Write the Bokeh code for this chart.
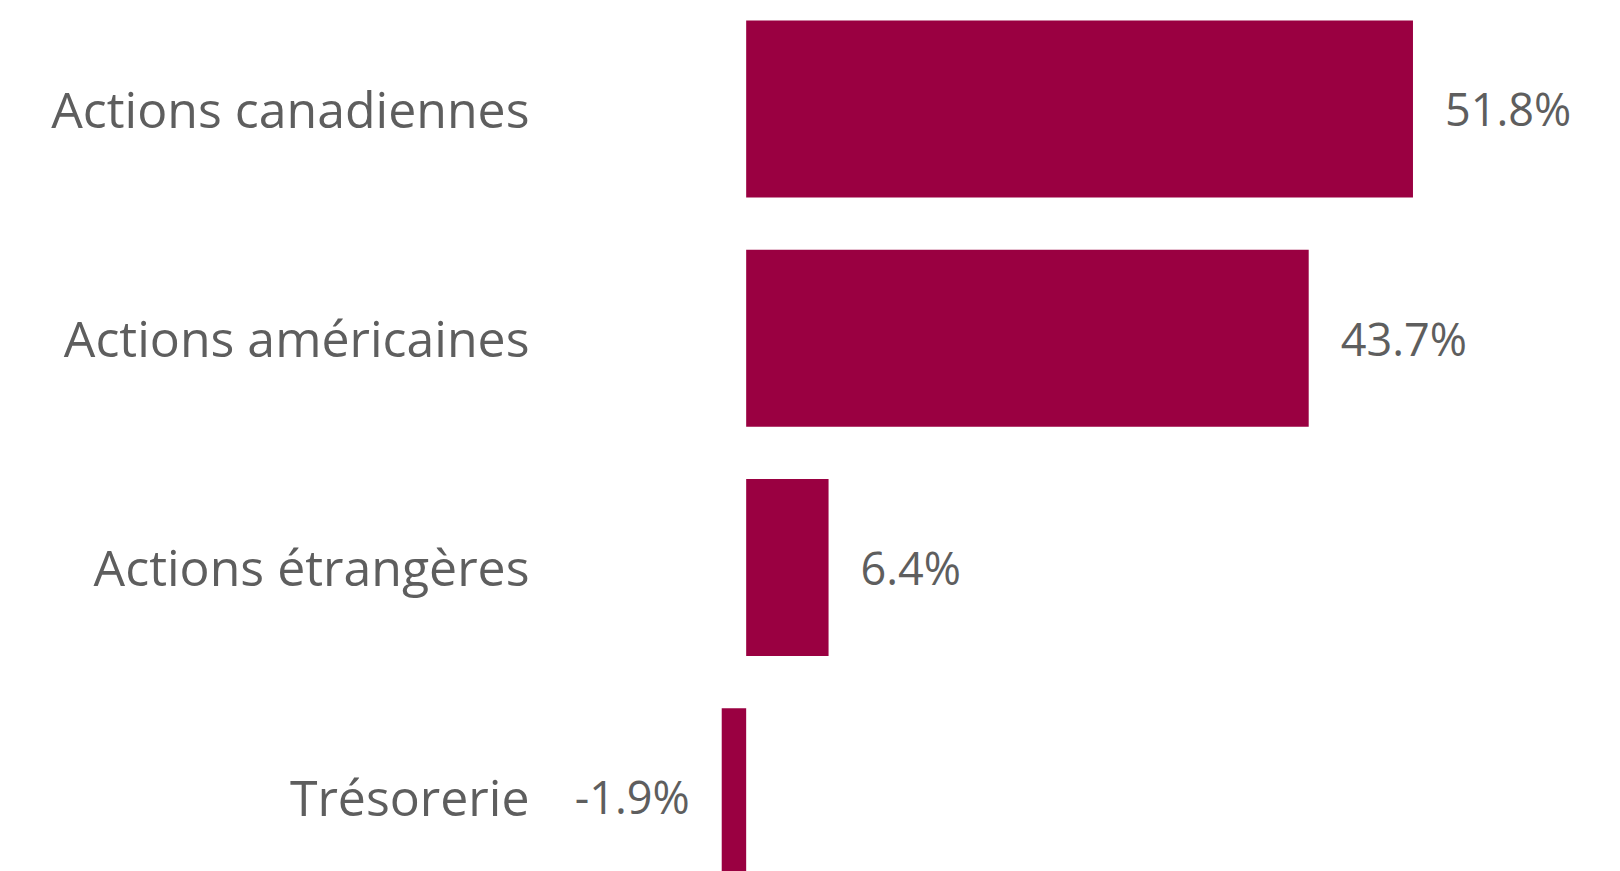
from bokeh.plotting import figure
from bokeh.models import Range1d, FixedTicker, ColumnDataSource
from bokeh.core.properties import value
from bokeh.embed import file_html
from bokeh.resources import INLINE

categories = ["Actions canadiennes", "Actions américaines", "Actions étrangères", "Trésorerie"]
values = [51.8, 43.7, 6.4, -1.9]
value_labels = ["51.8%", "43.7%", "6.4%", "-1.9%"]

BAR_COLOR = "#9A0041"
TEXT_COLOR = "#5E5E5E"
FONT = "Open Sans"

pos = list(range(len(categories)))
src = ColumnDataSource(dict(
    y=pos,
    v=values,
    lab=value_labels,
    align=["left" if v >= 0 else "right" for v in values],
    off=[32 if v >= 0 else -32 for v in values],
))

p = figure(width=1612, height=871, output_backend="svg", toolbar_location=None,
           x_range=Range1d(-15.9, 67.3), y_range=Range1d(3.326, -0.438),
           min_border_left=541, min_border_right=0, min_border_top=8, min_border_bottom=0)
p.outline_line_color = None
p.background_fill_color = "white"
p.border_fill_color = "white"
p.grid.visible = False
p.xaxis.visible = False

p.hbar(y="y", right="v", left=0, height=0.772, source=src,
       fill_color=BAR_COLOR, line_color=None)
p.text(x="v", y="y", text="lab", source=src, x_offset="off", text_align="align",
       text_baseline="middle", text_font=value(FONT), text_font_size="45px",
       text_color=TEXT_COLOR)

ya = p.yaxis[0]
ya.ticker = FixedTicker(ticks=pos)
ya.major_label_overrides = {i: c for i, c in zip(pos, categories)}
ya.axis_line_color = None
ya.major_tick_line_color = None
ya.minor_tick_line_color = None
ya.major_tick_out = 0
ya.major_tick_in = 0
ya.major_label_standoff = 12
ya.major_label_text_font = FONT
ya.major_label_text_font_size = "50px"
ya.major_label_text_color = TEXT_COLOR

open("out.html", "w").write(file_html(p, INLINE))
